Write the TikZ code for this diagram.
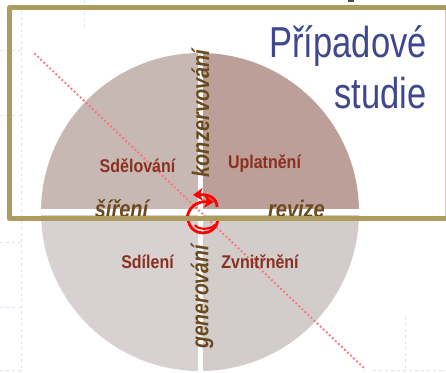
\documentclass[tikz,border=0pt]{standalone}
\usepackage{fontspec}
\setmainfont{Liberation Sans}
\usetikzlibrary{arrows.meta}
\definecolor{frameC}{HTML}{AE9C5F}
\definecolor{ul}{HTML}{C8B8B4}
\definecolor{ur}{HTML}{BC9F98}
\definecolor{ll}{HTML}{D7D2D1}
\definecolor{lr}{HTML}{D2CDCB}
\definecolor{verbC}{HTML}{6B4A1E}
\definecolor{nounC}{HTML}{8A3020}
\definecolor{titleC}{HTML}{3F478F}
\definecolor{gridC}{HTML}{DCE4FA}
\definecolor{dotC}{HTML}{FF6F7C}
\tikzset{
 x=1pt,y=-1pt,
 noun/.style={text=nounC,font=\fontsize{16}{18}\selectfont\bfseries,inner sep=0pt,anchor=base,yscale=1.15},
 verb/.style={text=verbC,font=\fontsize{20}{22}\selectfont\bfseries\itshape,inner sep=0pt},
 title/.style={text=titleC,font=\fontsize{37}{43.6}\selectfont,inner sep=0pt,align=right,anchor=north east,xscale=.934,yscale=1.17},
 gridl/.style={draw=gridC,line width=1pt,dashed},
 spin/.style={draw=red,line width=2.8pt,-{Stealth[length=10pt,width=13pt]}},
 spinplain/.style={draw=red,line width=2.8pt},
}
\begin{document}
\begin{tikzpicture}
\useasboundingbox (0,0) rectangle (446,372);
\fill[white] (0,0) rectangle (446,372);
% faint grid
\draw[gridl] (0,50)--(24,50) (0,115)--(24,115) (0,242)--(24,242) (0,307)--(24,307) (0,370)--(24,370);
\draw[gridl] (21,5)--(21,372) (84,0)--(84,30);
\draw[gridl] (405,317)--(405,372) (373,370)--(446,370);
% quadrants
\begin{scope}
\clip (200,212) circle[radius=159];
\fill[ul] (0,0) rectangle (198,209);
\fill[ur] (203,0) rectangle (446,209);
\fill[ll] (0,215) rectangle (198,372);
\fill[lr] (203,215) rectangle (446,372);
\end{scope}
% dotted diagonal
\coordinate (da) at (35,54);
\coordinate (db) at (366,370);
\draw[dotC,line width=2.6pt,line cap=round,dash pattern=on 0pt off 4.2pt] (da)--(db);
% words
\node[noun] (sdel) at (137.5,172) {Sdělování};
\node[noun] (upl) at (264.5,168) {Uplatnění};
\node[noun] (sdil) at (147.5,268) {Sdílení};
\node[noun] (zvn) at (260,268) {Zvnitřnění};
\node[verb,rotate=90,yscale=1.2] (kons) at (200.5,113.5) {konzervování};
\node[verb,rotate=90,yscale=1.2,xscale=.97] (gen) at (202,297) {generování};
\node[verb,anchor=base,yscale=1.2] (sir) at (121.5,217) {šíření};
\node[verb,anchor=base,yscale=1.2] (rev) at (296.5,217) {revize};
% spin marks
\coordinate (s1) at (217,207);
\coordinate (s2) at (193,195);
\coordinate (s3) at (187,219);
\coordinate (s4) at (214,202);
\draw[spin] (s1) .. controls (217,199) and (210,194) .. (s2);
\draw[spin] (s3) .. controls (188,207) and (197,201) .. (s4);
\draw[spinplain] (188,218) .. controls (189,238) and (217,238) .. (218,218);
\draw[spinplain,line width=2.2pt] (195,225) .. controls (198,230) and (210,230) .. (215,225);
% frame
\draw[frameC,line width=5pt,line join=round] (460,7.5)--(9.5,7.5)--(9.5,218.7)--(460,218.7);
\draw[frameC!50!white,line width=1pt] (445.5,10)--(445.5,216);
% title
\node[title] (ttl) at (427,25) {Případové\\studie};
\fill[black!70] (348,0) rectangle (354,1.5);
\end{tikzpicture}
\end{document}
